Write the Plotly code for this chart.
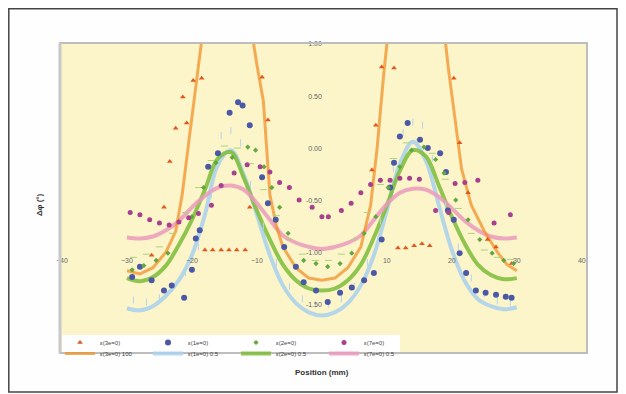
import plotly.graph_objects as go

# ---------------- data ----------------
fit_x = [-30, -28, -26, -24, -22, -20, -18, -16, -14, -12, -10, -8, -6, -4, -2, 0,
         2, 4, 6, 8, 10, 12, 14, 16, 18, 20, 22, 24, 26, 28, 30]
lightblue_fit = [-1.54, -1.56, -1.52, -1.42, -1.27, -1.03, -0.64, -0.16, -0.02, -0.26, -0.64, -1.03, -1.32, -1.49, -1.58, -1.61,
                 -1.58, -1.49, -1.32, -1.03, -0.60, -0.15, 0.06, -0.12, -0.55, -0.98, -1.28, -1.45, -1.52, -1.55, -1.53]
green_fit = [-1.25, -1.28, -1.24, -1.13, -0.93, -0.69, -0.40, -0.10, -0.04, -0.29, -0.60, -0.88, -1.12, -1.27, -1.35, -1.37,
             -1.35, -1.27, -1.12, -0.86, -0.55, -0.22, -0.02, -0.08, -0.36, -0.66, -0.92, -1.12, -1.22, -1.26, -1.25]
pink_fit = [-0.86, -0.87, -0.85, -0.79, -0.70, -0.57, -0.46, -0.38, -0.36, -0.40, -0.53, -0.69, -0.84, -0.91, -0.95, -0.97,
            -0.95, -0.91, -0.84, -0.69, -0.54, -0.43, -0.39, -0.40, -0.47, -0.58, -0.70, -0.79, -0.85, -0.87, -0.86]

orange_x = [-30, -28, -26, -24, -22.5, -21.5, -20.5, -19.5, -18, -14.5, -11, -10, -9, -8, -7, -6, -4, -2, 0,
            2, 4, 6, 7.5, 8.5, 9.5, 10.5, 14.5, 18.5, 19.5, 20.5, 21.5, 23, 25, 27, 28.5, 30]
orange_fit = [-1.18, -1.21, -1.15, -1.00, -0.80, -0.45, 0.05, 0.60, 1.40, 3.00, 1.20, 0.80, 0.45, -0.45, -0.75, -0.95, -1.15, -1.25, -1.27,
              -1.25, -1.15, -0.95, -0.55, 0.00, 0.70, 1.30, 3.00, 1.30, 0.75, 0.25, -0.20, -0.55, -0.80, -1.00, -1.12, -1.18]

red_x = [-26.2, -24.3, -23.4, -22.5, -21.4, -20.8, -19.8, -18.5,
         -18.0, -16.8, -15.5, -14.3, -13.1, -11.8, -11.1, -9.2, -8.3,
         7.7, 8.3, 9.2, 11.1, 11.7, 12.9, 14.2, 15.4, 16.6,
         20.3, 21.2, 22.5, 25.5, 26.8, 29.2]
red_y = [-1.03, -0.57, -0.13, 0.19, 0.49, 0.24, 0.65, 0.67,
         -0.98, -0.98, -0.98, -0.98, -0.98, -0.98, -0.57, 0.68, 0.27,
         -0.21, 0.22, 0.78, 0.77, -0.96, -0.96, -0.94, -0.92, -0.94,
         0.67, 0.05, -0.43, -0.88, -0.95, -1.11]

blue_x = [-29.2, -28.0, -26.2, -24.3, -23.1, -21.2, -20.0, -19.4, -18.8, -17.5, -16.0, -14.2, -12.9, -12.2,
          -11.1, -9.2, -8.3, -7.1, -5.8, -4.0, -2.8, -0.9, 0.9, 2.8, 4.6, 6.5, 8.0, 9.2, 10.5, 11.1, 12.0,
          13.2, 15.1, 16.3, 18.2, 19.1, 19.4, 20.3, 21.2, 22.2, 23.7, 25.2, 26.8, 28.3, 29.2]
blue_y = [-1.24, -1.14, -1.27, -1.37, -1.32, -1.44, -1.17, -0.87, -0.79, -0.18, -0.05, 0.34, 0.44, 0.41,
          0.22, -0.28, -0.53, -0.69, -0.95, -1.14, -1.29, -1.37, -1.48, -1.39, -1.34, -1.27, -1.20, -0.88, -0.38, -0.14, 0.11,
          0.24, 0.08, 0.00, -0.05, -0.23, -0.60, -0.69, -1.01, -1.20, -1.37, -1.39, -1.41, -1.43, -1.44]

green_x = [-29.2, -27.4, -25.5, -23.7, -20.0, -18.2, -16.3, -13.8, -11.4, -10.2, -8.9, -7.7, -6.5, -5.2, -2.8,
           -0.9, 0.9, 2.8, 4.6, 6.5, 8.3, 10.2, 12.0, 13.8, 15.7, 17.5, 18.8, 20.6, 22.5, 24.3, 26.2, 28.0, 29.5]
green_y = [-1.17, -1.13, -1.08, -1.01, -0.66, -0.38, -0.14, -0.09, 0.01, -0.02, -0.18, -0.38, -0.57, -0.82, -1.08,
           -1.11, -1.14, -1.11, -1.01, -0.82, -0.66, -0.38, -0.18, -0.02, 0.01, -0.11, -0.24, -0.50, -0.69, -0.88, -1.01, -1.08, -1.11]

purple_x = [-29.5, -28, -26.5, -25, -23.5, -22, -20.5, -19, -17, -15.5, -13.5, -11.5, -9.5, -8, -6.5, -5, -3.5, -1.5, 0,
            1, 3, 4.5, 6, 7.5, 9, 10.5, 12, 13.5, 15, 17.5, 19.5, 20.5, 22, 24, 26.5, 29]
purple_y = [-0.62, -0.64, -0.69, -0.72, -0.74, -0.71, -0.67, -0.63, -0.55, -0.36, -0.24, -0.16, -0.18, -0.23, -0.33, -0.38, -0.50, -0.57, -0.66,
            -0.66, -0.60, -0.53, -0.43, -0.35, -0.31, -0.31, -0.29, -0.29, -0.30, -0.60, -0.62, -0.34, -0.33, -0.31, -0.72, -0.64]

lb_x = [-29, -27, -25, -23, -21, -19, -17, -15.5, -14, -12.5, -11, -9, -7, -5, -3, -1,
        1, 3, 5, 7, 9, 11, 12.5, 14, 15.5, 17, 19, 21, 23, 25, 27, 29]
lb_y = [-1.46, -1.48, -1.44, -1.35, -1.20, -0.95, -0.45, 0.12, 0.17, 0.05, -0.35, -0.75, -1.10, -1.33, -1.45, -1.50,
        -1.50, -1.45, -1.33, -1.10, -0.70, -0.20, 0.15, 0.25, 0.22, -0.10, -0.55, -0.95, -1.25, -1.40, -1.47, -1.48]

lg_x = [-29, -27, -25, -23, -21, -19, -17, -15, -13, -11, -9, -7, -5, -3, -1,
        1, 3, 5, 7, 9, 11, 13, 15, 17, 19, 21, 23, 25, 27, 29]
lg_y = [-1.05, -1.02, -0.95, -0.82, -0.62, -0.38, -0.12, 0.02, 0.00, -0.15, -0.40, -0.65, -0.88, -1.02, -1.08,
        -1.08, -1.02, -0.88, -0.62, -0.35, -0.10, 0.05, 0.08, -0.05, -0.30, -0.58, -0.82, -0.98, -1.05, -1.07]

x_ticks = [-40, -30, -20, -10, 10, 20, 30, 40]
y_ticks = [1.0, 0.5, 0.0, -0.5, -1.0, -1.5]
y_ticktext = ["1.00", "0.50", "0.00", "-0.50", "-1.00", "-1.50"]

names_row1 = ["ε(3e=0)", "ε(1e=0)", "ε(2e=0)", "ε(7e=0)"]
names_row2 = ["ε(3e=0) 100", "ε(1e=0) 0.5", "ε(2e=0) 0.5", "ε(7e=0) 0.5"]

# ---------------- figure ----------------
fig = go.Figure()

def fit(x, y, color, name, rank, width=4, shape="spline", opacity=0.85):
    fig.add_trace(go.Scatter(x=x, y=y, mode="lines", name=name, legend="legend2", legendrank=rank,
                             line=dict(color=color, width=width, shape=shape), opacity=opacity))

def pts(x, y, color, name, symbol, size, rank, show=True):
    fig.add_trace(go.Scatter(x=x, y=y, mode="markers", name=name, legend="legend", legendrank=rank,
                             showlegend=show,
                             marker=dict(color=color, symbol=symbol, size=size, line=dict(width=0))))

fit(fit_x, lightblue_fit, "#a9d1ee", names_row2[1], 2)
fit(fit_x, green_fit, "#7dbd3a", names_row2[2], 3)
fit(fit_x, pink_fit, "#ec9bbd", names_row2[3], 4)
fit(orange_x, orange_fit, "#f2922a", names_row2[0], 1, width=3, shape="linear", opacity=0.75)

pts(lb_x, lb_y, "#b3d3ee", "lb", "line-ns-open", 5, 10, show=False)
pts(lg_x, lg_y, "#a8d47c", "lg", "line-ew-open", 5, 11, show=False)
pts(red_x, red_y, "#e0581c", names_row1[0], "triangle-up", 5, 1)
pts(blue_x, blue_y, "#4b58a6", names_row1[1], "circle", 6, 2)
pts(green_x, green_y, "#62a83e", names_row1[2], "diamond", 4, 3)
pts(purple_x, purple_y, "#a5418f", names_row1[3], "circle", 5, 4)

# figure is placed at an 8px page offset, so size/margins compensate
W, H = 618, 386
ML, MR, MT, MB = 52, 39, 35, 41

def py(fy):  # figure pixel y -> paper y
    return (H - MB - fy) / (H - MT - MB)

def px(fx):
    return (fx - ML) / (W - ML - MR)

leg_common = dict(orientation="h", xanchor="left", yanchor="top",
                  bgcolor="rgba(0,0,0,0)", font=dict(size=6, color="#444"),
                  entrywidth=43, entrywidthmode="pixels", itemwidth=30,
                  tracegroupgap=0, traceorder="normal")

fig.update_layout(
    width=W, height=H,
    margin=dict(l=ML, r=MR, t=MT, b=MB),
    paper_bgcolor="#fefefe",
    plot_bgcolor="#fcf5ca",
    font=dict(family="Liberation Sans, Arial, sans-serif", size=7, color="#555"),
    xaxis=dict(range=[-40.3, 40.8], tickvals=x_ticks, anchor="free", position=0.316,
               showgrid=False, zeroline=False, showline=False, ticks="",
               tickfont=dict(size=7, color="#666")),
    yaxis=dict(range=[-1.97, 1.01], tickvals=y_ticks, ticktext=y_ticktext, anchor="free", position=0.497,
               showgrid=False, zeroline=False, showline=False, ticks="",
               tickfont=dict(size=7, color="#666")),
    legend=dict(x=0.0, y=py(320), **leg_common),
    legend2=dict(x=0.0, y=py(331), **leg_common),
    showlegend=True,
    shapes=[
        dict(type="rect", xref="paper", yref="paper", x0=px(54), x1=px(392), y0=py(350), y1=py(327),
             fillcolor="#ffffff", line=dict(width=0), layer="below"),
        dict(type="rect", xref="paper", yref="paper", x0=0, x1=1, y0=0, y1=1,
             line=dict(color="#bdbdbd", width=2)),
        dict(type="line", xref="paper", yref="paper", x0=0, x1=0, y0=0, y1=1,
             line=dict(color="#c8c8c8", width=3)),
        dict(type="rect", xref="paper", yref="paper", x0=px(0.8), x1=px(609), y0=py(384), y1=py(0.8),
             line=dict(color="#444", width=1.5)),
    ],
    annotations=[
        dict(text="<b>Position (mm)</b>", xref="paper", yref="paper", x=0.497, y=py(364),
             xanchor="center", yanchor="middle",
             showarrow=False, font=dict(size=8, color="#333")),
        dict(text="<b>Δφ (°)</b>", xref="paper", yref="paper", x=px(31), y=py(197),
             xanchor="center", yanchor="middle",
             showarrow=False, textangle=-90, font=dict(size=8, color="#333")),
    ],
)

fig.write_html("out.html")
